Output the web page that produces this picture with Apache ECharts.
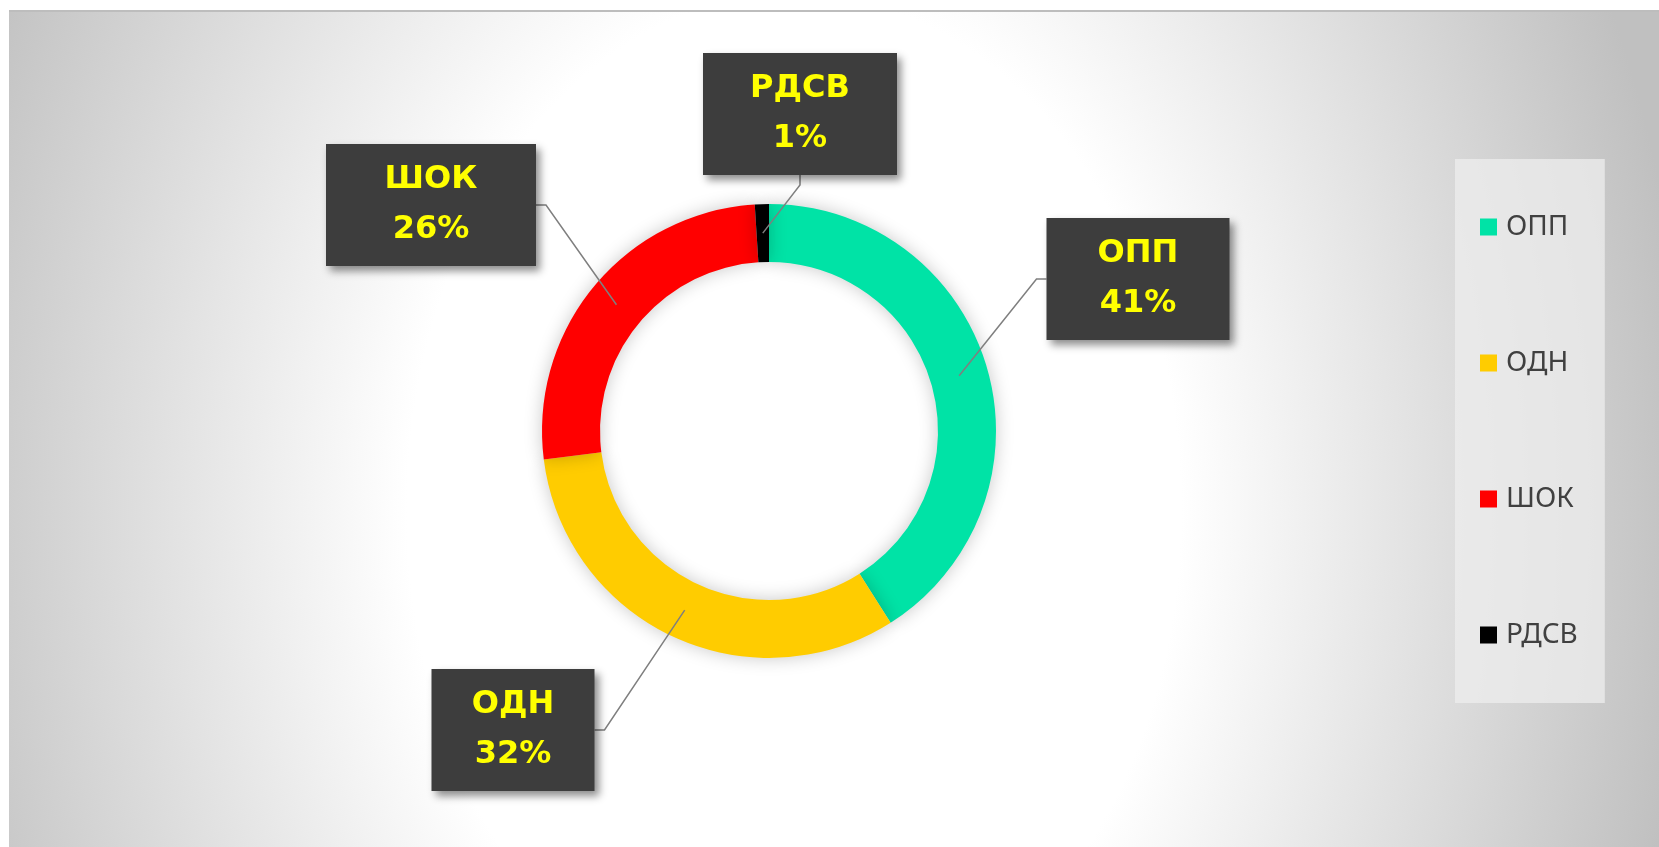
<html>
<head>
    <meta charset="utf-8">
    <title>donut</title>
    <script src="https://cdn.jsdelivr.net/npm/echarts@6/dist/echarts.min.js"></script>
    <style>
        body { margin: 0; background: #ffffff; }
        #chart {
            position: absolute; left: 9px; top: 10px; width: 1650px; height: 837px;
            background: radial-gradient(ellipse 900px 1200px at 785px 500px, #ffffff 0%, #ffffff 43%, #c0c0c0 100%);
            box-shadow: inset 0 2px 0 #bdbdbd;
        }
    </style>
</head>
<body>
    <div id="chart"></div>
    <script>
        var categories = ['ОПП', 'ОДН', 'ШОК', 'РДСВ'];
        var shares = [41, 32, 26, 1];
        var colors = ['#00e3a6', '#ffcc00', '#ff0000', '#000000'];

        // where the label boxes sit (centre x, centre y, box width)
        var boxes = [
            [1129, 269, 183],
            [504, 720, 163],
            [422, 195, 210],
            [791, 104, 194]
        ];

        var chart = echarts.init(document.getElementById('chart'));

        var ringData = categories.map(function (name, i) {
            return { name: name, value: shares[i], itemStyle: { color: colors[i] } };
        });
        // same values on a thin invisible ring in the middle of the donut, it carries the labels
        var labelData = categories.map(function (name, i) {
            return { name: name, value: shares[i], label: { width: boxes[i][2] } };
        });

        var option = {
            backgroundColor: 'transparent',
            legend: {
                orient: 'vertical',
                left: 1446,
                top: 149,
                padding: [54, 27, 54, 25],
                itemGap: 108,
                itemWidth: 17,
                itemHeight: 17,
                icon: 'rect',
                backgroundColor: 'rgba(238,238,238,0.75)',
                textStyle: { fontFamily: 'Noto Sans', fontSize: 28, color: '#404040', lineHeight: 28, padding: [0, 0, 0, 4] },
                data: categories.map(function (name, i) {
                    return { name: name, itemStyle: { color: colors[i] } };
                })
            },
            series: [{
                type: 'pie',
                z: 2,
                center: [760, 421],
                radius: [169, 227],
                startAngle: 90,
                clockwise: true,
                silent: true,
                itemStyle: { shadowBlur: 18, shadowColor: 'rgba(0,0,0,0.22)' },
                label: { show: false },
                labelLine: { show: false },
                data: ringData
            }, {
                type: 'pie',
                z: 5,
                center: [760, 421],
                radius: [196, 198],
                startAngle: 90,
                clockwise: true,
                silent: true,
                avoidLabelOverlap: false,
                itemStyle: { color: 'rgba(0,0,0,0)' },
                label: {
                    show: true,
                    position: 'outside',
                    formatter: '{b}\n{c}%',
                    fontFamily: 'DejaVu Sans',
                    fontWeight: 'bold',
                    fontSize: 32,
                    lineHeight: 50,
                    color: '#ffff00',
                    align: 'center',
                    backgroundColor: '#3d3d3d',
                    padding: [11, 0],
                    shadowBlur: 8,
                    shadowOffsetX: 4,
                    shadowOffsetY: 5,
                    shadowColor: 'rgba(0,0,0,0.45)'
                },
                labelLine: {
                    show: true,
                    length: 20,
                    length2: 10,
                    lineStyle: { color: '#7f7f7f', width: 1.5 }
                },
                labelLayout: function (params) {
                    var b = boxes[params.dataIndex];
                    return { x: b[0], y: b[1], align: 'center', verticalAlign: 'middle' };
                },
                data: labelData
            }]
        };
        chart.setOption(option);
    </script>
</body>
</html>
